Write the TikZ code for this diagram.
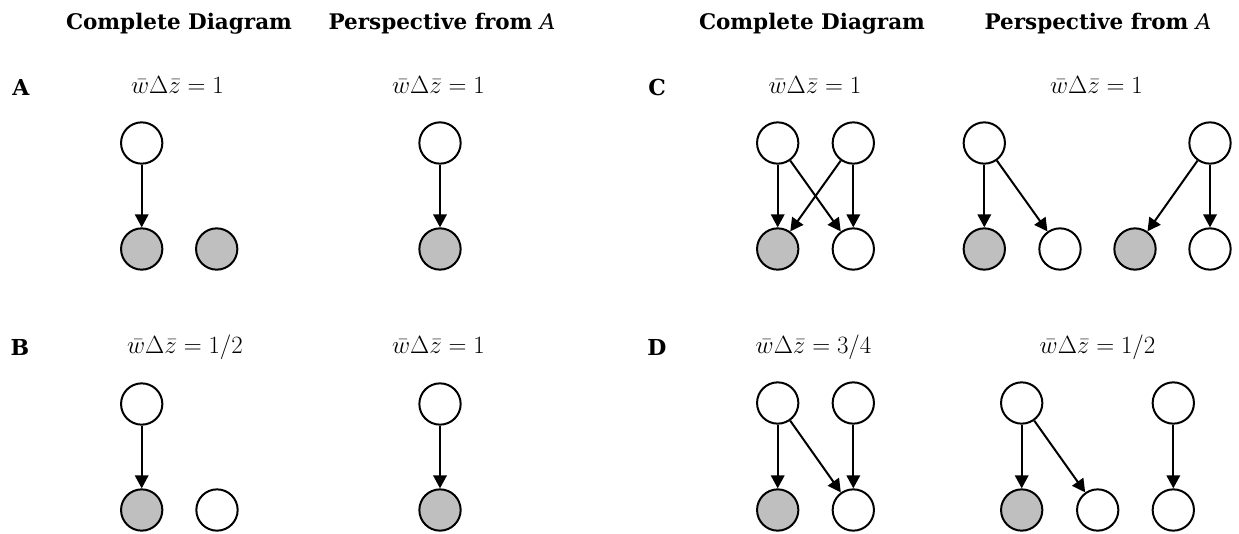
\documentclass[tikz,border=0pt]{standalone}
\usepackage{fontspec}
\setmainfont{DejaVu Serif}
\usetikzlibrary{arrows.meta}
\begin{document}
\begin{tikzpicture}[x=1pt,y=-1pt,
  nd/.style={circle,draw,line width=2pt,minimum size=41.3pt,inner sep=0pt,fill=white},
  gr/.style={nd,fill=black!25},
  arr/.style={line width=2pt,-{Triangle[length=13pt,width=13.5pt]}},
  hd/.style={font=\fontsize{21.5}{25}\selectfont\bfseries,anchor=base,inner sep=0pt},
  lab/.style={font=\fontsize{24.88}{30}\selectfont,anchor=base,inner sep=0pt},
  pl/.style={font=\fontsize{22}{26}\selectfont\bfseries,anchor=base,inner sep=0pt}]
\useasboundingbox (0,0) rectangle (1239,533);
% headers
\node[hd] (h1) at (179,29) {Complete Diagram};
\node[hd] (h2) at (442,29) {Perspective from {\mdseries\itshape A}};
\node[hd] (h3) at (812,29) {Complete Diagram};
\node[hd] (h4) at (1098,29) {Perspective from {\mdseries\itshape A}};
% panel letters
\node[pl] (pA) at (21,95) {A};
\node[pl] (pB) at (20,355) {B};
\node[pl] (pC) at (657,95) {C};
\node[pl] (pD) at (657,355) {D};
% value labels
\node[lab] (lA1) at (177.5,93) {$\bar w\Delta\bar z = 1$};
\node[lab] (lA2) at (438.5,93) {$\bar w\Delta\bar z = 1$};
\node[lab] (lB1) at (185,353) {$\bar w\Delta\bar z = 1/2$};
\node[lab] (lB2) at (438.5,353) {$\bar w\Delta\bar z = 1$};
\node[lab] (lC1) at (815,93) {$\bar w\Delta\bar z = 1$};
\node[lab] (lC2) at (1096.5,93) {$\bar w\Delta\bar z = 1$};
\node[lab] (lD1) at (813.5,353) {$\bar w\Delta\bar z = 3/4$};
\node[lab] (lD2) at (1097.5,353) {$\bar w\Delta\bar z = 1/2$};
% panel A
\node[nd] (a1t) at (141.7,143) {};
\node[gr] (a1b) at (141.7,249) {};
\node[gr] (a1c) at (216.7,249) {};
\node[nd] (a2t) at (440,143) {};
\node[gr] (a2b) at (440,249) {};
\draw[arr] (a1t) -- (a1b);
\draw[arr] (a2t) -- (a2b);
% panel B
\node[nd] (b1t) at (141.7,404) {};
\node[gr] (b1b) at (141.7,510) {};
\node[nd] (b1c) at (217,510) {};
\node[nd] (b2t) at (440,404) {};
\node[gr] (b2b) at (440,510) {};
\draw[arr] (b1t) -- (b1b);
\draw[arr] (b2t) -- (b2b);
% panel C
\node[nd] (c1tl) at (777.7,143) {};
\node[nd] (c1tr) at (853.3,143) {};
\node[gr] (c1bl) at (777.7,249) {};
\node[nd] (c1br) at (853.3,249) {};
\draw[arr] (c1tl) -- (c1bl);
\draw[arr] (c1tl) -- (c1br);
\draw[arr] (c1tr) -- (c1bl);
\draw[arr] (c1tr) -- (c1br);
\node[nd] (c2tl) at (984.3,143) {};
\node[nd] (c2tr) at (1210,143) {};
\node[gr] (c2b1) at (984.3,249) {};
\node[nd] (c2b2) at (1060,249) {};
\node[gr] (c2b3) at (1135,249) {};
\node[nd] (c2b4) at (1210,249) {};
\draw[arr] (c2tl) -- (c2b1);
\draw[arr] (c2tl) -- (c2b2);
\draw[arr] (c2tr) -- (c2b3);
\draw[arr] (c2tr) -- (c2b4);
% panel D
\node[nd] (d1tl) at (777.7,403) {};
\node[nd] (d1tr) at (853.3,403) {};
\node[gr] (d1bl) at (777.7,510) {};
\node[nd] (d1br) at (853.3,510) {};
\draw[arr] (d1tl) -- (d1bl);
\draw[arr] (d1tl) -- (d1br);
\draw[arr] (d1tr) -- (d1br);
\node[nd] (d2tl) at (1021.7,403) {};
\node[nd] (d2tr) at (1173.3,403) {};
\node[gr] (d2b1) at (1021.7,510) {};
\node[nd] (d2b2) at (1097.7,510) {};
\node[nd] (d2b3) at (1173.3,510) {};
\draw[arr] (d2tl) -- (d2b1);
\draw[arr] (d2tl) -- (d2b2);
\draw[arr] (d2tr) -- (d2b3);
\end{tikzpicture}
\end{document}
